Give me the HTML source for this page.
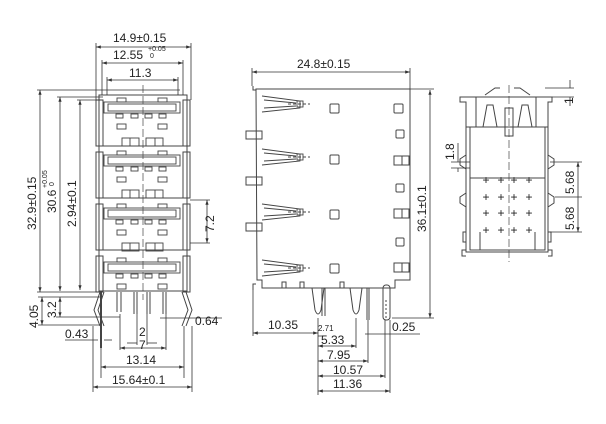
<!DOCTYPE html>
<html><head><style>
html,body{margin:0;padding:0;background:#fff;width:606px;height:424px;overflow:hidden}
svg text{font-family:"Liberation Sans",sans-serif;fill:#222}
</style></head><body>
<svg width="606" height="424" viewBox="0 0 606 424" xmlns="http://www.w3.org/2000/svg">
<defs>
<marker id="a" markerWidth="6" markerHeight="6" refX="6" refY="3" orient="auto-start-reverse"><path d="M0,1 L6,3 L0,5Z" fill="#333"/></marker>
<g id="mod" fill="none" stroke="#444" stroke-width="0.9">
<rect x="104" y="5" width="76" height="11"/><rect x="108" y="7" width="68" height="7"/>
<rect x="117" y="1" width="9" height="4"/><rect x="158" y="1" width="9" height="4"/>
<rect x="116" y="17" width="7" height="4"/><rect x="131" y="17" width="7" height="4"/><rect x="145" y="17" width="7" height="4"/><rect x="159" y="17" width="7" height="4"/>
<rect x="117" y="27" width="9" height="5"/><rect x="158" y="27" width="9" height="5"/>
</g>
<g id="pair" fill="none" stroke="#444" stroke-width="0.9">
<rect x="122" y="-4" width="17" height="8"/><line x1="130" y1="-4" x2="130" y2="4"/>
<rect x="146" y="-4" width="17" height="8"/><line x1="155" y1="-4" x2="155" y2="4"/>
</g>
<g id="fork" fill="none" stroke="#444" stroke-width="0.9">
<path d="M262,-8 L300,-3 L300,4 L262,8 M264,-4 L296,-1 M264,4 L296,2"/>
<rect x="297" y="-3" width="6" height="6"/>
<line x1="288" y1="0" x2="310" y2="0" stroke-dasharray="3,2"/>
</g>
</defs>

<g fill="none" stroke="#444" stroke-width="1">
<rect x="99" y="95" width="88" height="196"/>
<path d="M96,100 h7 v46 h-7z M96,152 h7 v46 h-7z M96,204 h7 v46 h-7z M96,256 h7 v36 h-7z"/>
<path d="M183,100 h7 v46 h-7z M183,152 h7 v46 h-7z M183,204 h7 v46 h-7z M183,256 h7 v36 h-7z"/>
<line x1="103" y1="146" x2="183" y2="146"/><line x1="103" y1="198" x2="183" y2="198"/><line x1="103" y1="250" x2="183" y2="250"/>
<line x1="143" y1="85" x2="143" y2="300" stroke-dasharray="8,3" stroke-width="0.7"/>
<path d="M100,292 L94,310 L100,326 M104,292 L98,310 L104,326"/>
<path d="M186,292 L192,310 L186,326 M182,292 L188,310 L182,326"/>
<line x1="101" y1="292" x2="101" y2="348" stroke-width="2"/>
<path d="M117,292 v20 M121,292 v20 M134,292 v22 M137,292 v22 M147,292 v22 M150,292 v22 M163,292 v22 M166,292 v22"/>
<g stroke="#333" stroke-width="0.8">
<line x1="96" y1="47" x2="191" y2="47" marker-start="url(#a)" marker-end="url(#a)"/>
<line x1="96" y1="43" x2="96" y2="100"/><line x1="191" y1="43" x2="191" y2="100"/>
<line x1="102" y1="63" x2="183" y2="63" marker-start="url(#a)" marker-end="url(#a)"/>
<line x1="102" y1="60" x2="102" y2="95"/><line x1="183" y1="60" x2="183" y2="95"/>
<line x1="107" y1="80" x2="178" y2="80" marker-start="url(#a)" marker-end="url(#a)"/>
<line x1="107" y1="77" x2="107" y2="95"/><line x1="178" y1="77" x2="178" y2="95"/>
<line x1="40" y1="90" x2="40" y2="292" marker-start="url(#a)" marker-end="url(#a)"/>
<line x1="37" y1="90" x2="180" y2="90"/>
<line x1="60" y1="97" x2="60" y2="291" marker-start="url(#a)" marker-end="url(#a)"/>
<line x1="57" y1="97" x2="103" y2="97"/>
<line x1="80" y1="100" x2="80" y2="290" marker-start="url(#a)" marker-end="url(#a)"/>
<line x1="77" y1="100" x2="103" y2="100"/>
<line x1="37" y1="292" x2="99" y2="292"/>
<line x1="42" y1="297" x2="42" y2="325" marker-start="url(#a)" marker-end="url(#a)"/>
<line x1="38" y1="325" x2="100" y2="325"/><line x1="38" y1="297" x2="100" y2="297"/>
<line x1="60" y1="297" x2="60" y2="317" marker-start="url(#a)" marker-end="url(#a)"/>
<line x1="56" y1="317" x2="120" y2="317"/>
<line x1="65" y1="340" x2="98" y2="340"/><line x1="104" y1="340" x2="112" y2="340"/>
<line x1="207" y1="200" x2="207" y2="243" marker-start="url(#a)" marker-end="url(#a)"/>
<line x1="190" y1="200" x2="210" y2="200"/><line x1="190" y1="243" x2="210" y2="243"/>
<line x1="160" y1="318" x2="222" y2="318"/>
<line x1="137" y1="314" x2="137" y2="345"/><line x1="147" y1="314" x2="147" y2="345"/>
<line x1="127" y1="343" x2="137" y2="343"/><line x1="147" y1="343" x2="157" y2="343"/>
<line x1="120" y1="314" x2="120" y2="350"/><line x1="166" y1="314" x2="166" y2="350"/>
<line x1="120" y1="348" x2="166" y2="348" marker-start="url(#a)" marker-end="url(#a)"/>
<line x1="101" y1="348" x2="101" y2="378"/><line x1="184" y1="326" x2="184" y2="378"/>
<line x1="101" y1="367" x2="184" y2="367" marker-start="url(#a)" marker-end="url(#a)"/>
<line x1="93" y1="326" x2="93" y2="392"/><line x1="192" y1="326" x2="192" y2="392"/>
<line x1="93" y1="387" x2="192" y2="387" marker-start="url(#a)" marker-end="url(#a)"/>
</g>
</g>
<use href="#mod" y="97"/><use href="#mod" y="150"/><use href="#mod" y="203"/><use href="#mod" y="257"/>
<use href="#pair" y="142"/><use href="#pair" y="194"/><use href="#pair" y="247"/>

<g font-size="12">
<text x="113" y="42">14.9±0.15</text>
<text x="113" y="59">12.55</text><text x="148" y="51" font-size="7">+0.05</text><text x="150" y="58" font-size="7">0</text>
<text x="129" y="77">11.3</text>
<text transform="translate(36,230) rotate(-90)">32.9±0.15</text>
<text transform="translate(56,213) rotate(-90)">30.6</text><text transform="translate(47,188) rotate(-90)" font-size="7">+0.05</text><text transform="translate(54,186) rotate(-90)" font-size="7">0</text>
<text transform="translate(76,227) rotate(-90)">2.94±0.1</text>
<text transform="translate(38,328) rotate(-90)">4.05</text>
<text transform="translate(56,318) rotate(-90)">3.2</text>
<text transform="translate(214,232) rotate(-90)">7.2</text>
<text x="65" y="338">0.43</text>
<text x="195" y="325">0.64</text>
<text x="139" y="336">2</text>
<text x="139" y="349">7</text>
<text x="126" y="364">13.14</text>
<text x="112" y="384">15.64±0.1</text>
</g>

<g fill="none" stroke="#444" stroke-width="1">
<path d="M256,89 H410 V280 H395 V288 H262 V280 H257 Z"/>
<path d="M253,86 v4 h3 M253,290 v-6 h3"/>
<path d="M246,131 h16 v8 h-16z M246,177 h16 v8 h-16z M246,223 h16 v8 h-16z"/>
<rect x="330" y="104" width="9" height="9" rx="1"/><rect x="394" y="104" width="9" height="9" rx="1"/>
<rect x="330" y="155" width="9" height="9" rx="1"/><rect x="330" y="210" width="9" height="9" rx="1"/><rect x="330" y="264" width="9" height="9" rx="1"/>
<rect x="396" y="130" width="8" height="8" rx="1"/><rect x="396" y="184" width="8" height="8" rx="1"/><rect x="396" y="238" width="8" height="8" rx="1"/>
<path d="M394,156 h8 v9 h-8z M402,156 h7 v9 h-7z M394,209 h8 v9 h-8z M402,209 h7 v9 h-7z M394,263 h8 v9 h-8z M402,263 h7 v9 h-7z"/>
<path d="M282,288 v-6 h4 v6 M340,288 v-6 h4 v6 M300,288 v-6 h4 v6"/>
<path d="M312,288 L315,310 Q318,318 321,310 L324,288"/>
<path d="M350,288 L353,310 Q356,318 359,310 L362,288"/>
<path d="M322,288 v28 M325,288 v28 M367,288 v32 M369,288 v32"/>
<rect x="383" y="285" width="7" height="35" rx="3"/>
<line x1="386" y1="300" x2="386" y2="318" stroke-dasharray="2,2"/>
<g stroke="#333" stroke-width="0.8">
<line x1="252" y1="72" x2="410" y2="72" marker-start="url(#a)" marker-end="url(#a)"/>
<line x1="252" y1="68" x2="252" y2="86"/><line x1="410" y1="68" x2="410" y2="89"/>
<line x1="430" y1="90" x2="430" y2="318" marker-start="url(#a)" marker-end="url(#a)"/>
<line x1="410" y1="89" x2="434" y2="89"/><line x1="392" y1="318" x2="434" y2="318"/>
<line x1="253" y1="290" x2="253" y2="336"/>
<line x1="253" y1="333" x2="318" y2="333" marker-start="url(#a)" marker-end="url(#a)"/>
<line x1="318" y1="318" x2="318" y2="395"/>
<line x1="318" y1="336" x2="324" y2="336"/>
<line x1="318" y1="346" x2="356" y2="346" marker-start="url(#a)" marker-end="url(#a)"/>
<line x1="356" y1="318" x2="356" y2="348"/>
<line x1="318" y1="361" x2="368" y2="361" marker-start="url(#a)" marker-end="url(#a)"/>
<line x1="368" y1="320" x2="368" y2="363"/>
<line x1="318" y1="376" x2="385" y2="376" marker-start="url(#a)" marker-end="url(#a)"/>
<line x1="385" y1="320" x2="385" y2="378"/>
<line x1="318" y1="391" x2="390" y2="391" marker-start="url(#a)" marker-end="url(#a)"/>
<line x1="390" y1="320" x2="390" y2="393"/>
<line x1="365" y1="334" x2="420" y2="334"/>
</g>
</g>
<use href="#fork" y="104"/><use href="#fork" y="157"/><use href="#fork" y="212"/><use href="#fork" y="268"/>
<g font-size="12">
<text x="297" y="68">24.8±0.15</text>
<text transform="translate(426,232) rotate(-90)">36.1±0.1</text>
<text x="268" y="329">10.35</text>
<text x="318" y="331" font-size="8">2.71</text>
<text x="321" y="344">5.33</text>
<text x="327" y="359">7.95</text>
<text x="333" y="374">10.57</text>
<text x="333" y="388">11.36</text>
<text x="392" y="331">0.25</text>
</g>

<g fill="none" stroke="#444" stroke-width="1">
<path d="M460,97 h92 v5 h-4 v150 h-82 v-150 h-6z"/>
<path d="M466,127 h82 M470,127 v123 h75 v-123"/>
<path d="M476,97 v30 M536,97 v30"/>
<path d="M485,95 L495,88 L500,88 M530,95 L520,88 L514,88"/>
<path d="M483,127 L487,105 h6 L497,127 M518,127 L522,105 h6 L532,127"/>
<rect x="505" y="108" width="8" height="28"/>
<line x1="470" y1="178" x2="545" y2="178"/>
<path d="M466,155 l-6,4 v6 l6,4 M466,193 l-6,4 v6 l6,4 M548,155 l6,4 v6 l-6,4 M548,193 l6,4 v6 l-6,4"/>
<path d="M466,232 h-3 v10 h3 M548,232 h3 v10 h-3 M466,250 h-4 v6 h4 M548,250 h4 v6 h-4"/>
<path d="M480,232 v18 M535,232 v18"/>
<line x1="509" y1="85" x2="509" y2="262" stroke-dasharray="8,3" stroke-width="0.7"/>
<g stroke="#333" stroke-width="0.8">
<line x1="458" y1="143" x2="458" y2="162"/><line x1="458" y1="168" x2="458" y2="172"/>
<line x1="451" y1="162" x2="470" y2="162"/><line x1="451" y1="168" x2="470" y2="168"/>
<line x1="578" y1="162" x2="578" y2="232" marker-start="url(#a)" marker-end="url(#a)"/>
<line x1="550" y1="162" x2="582" y2="162"/><line x1="555" y1="197" x2="582" y2="197"/><line x1="550" y1="232" x2="582" y2="232"/>
<line x1="570" y1="80" x2="570" y2="88"/><line x1="570" y1="97" x2="570" y2="106"/>
<line x1="545" y1="88" x2="574" y2="88"/><line x1="552" y1="97" x2="574" y2="97"/>
</g>
</g>
<g font-size="12" fill="#333" text-anchor="middle" font-family="Liberation Sans">
<text x="486" y="184">+</text><text x="501" y="184">+</text><text x="514" y="184">+</text><text x="529" y="184">+</text>
<text x="486" y="201">+</text><text x="501" y="201">+</text><text x="514" y="201">+</text><text x="529" y="201">+</text>
<text x="486" y="217">+</text><text x="501" y="217">+</text><text x="514" y="217">+</text><text x="529" y="217">+</text>
<text x="486" y="234">+</text><text x="501" y="234">+</text><text x="514" y="234">+</text><text x="529" y="234">+</text>
</g>
<g font-size="12">
<text transform="translate(454,160) rotate(-90)">1.8</text>
<text transform="translate(574,194) rotate(-90)">5.68</text>
<text transform="translate(574,230) rotate(-90)">5.68</text>
<text transform="translate(573,104) rotate(-90)">1</text>
</g>
</svg>
</body></html>
